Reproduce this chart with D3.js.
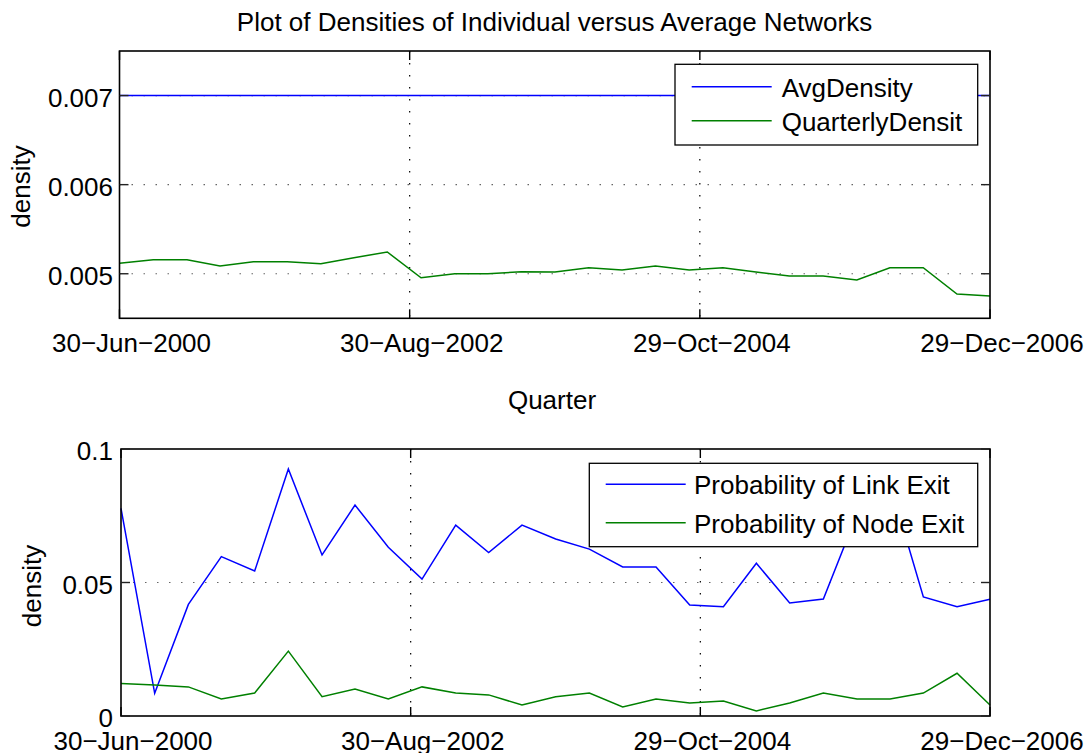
<!DOCTYPE html>
<html>
<head>
<meta charset="utf-8">
<script src="https://cdn.jsdelivr.net/npm/d3@7"></script>
<style>
  html, body { margin: 0; padding: 0; background: #fff; }
  svg text { font-family: "Liberation Sans", Arial, Helvetica, sans-serif; fill: #000; }
</style>
</head>
<body>
<svg id="chart" width="1089" height="753"></svg>
<script>
// ---------------- DATA ----------------
const quarters = [
  "2000-06-30","2000-09-30","2000-12-31",
  "2001-03-31","2001-06-30","2001-09-30","2001-12-31",
  "2002-03-31","2002-06-30","2002-09-30","2002-12-31",
  "2003-03-31","2003-06-30","2003-09-30","2003-12-31",
  "2004-03-31","2004-06-30","2004-09-30","2004-12-31",
  "2005-03-31","2005-06-30","2005-09-30","2005-12-31",
  "2006-03-31","2006-06-30","2006-09-30","2006-12-29"
];
const xTickDates  = ["2000-06-30","2002-08-30","2004-10-29","2006-12-29"];
const xTickLabels = ["30\u2212Jun\u22122000","30\u2212Aug\u22122002","29\u2212Oct\u22122004","29\u2212Dec\u22122006"];

const avgDensity = [
  0.007,0.007,0.007,0.007,0.007,0.007,0.007,0.007,0.007,
  0.007,0.007,0.007,0.007,0.007,0.007,0.007,0.007,0.007,
  0.007,0.007,0.007,0.007,0.007,0.007,0.007,0.007,0.007
];
const quarterlyDensity = [
  0.005117,0.005157,0.005157,0.005087,0.005135,0.005135,0.005112,0.005180,0.005244,
  0.004955,0.005000,0.005000,0.005022,0.005020,0.005068,0.005042,0.005087,0.005042,
  0.005068,0.005020,0.004974,0.004974,0.004929,0.005068,0.005068,0.004772,0.004749
];
const linkExit = [
  0.0778,0.0085,0.0418,0.0597,0.0543,0.0925,0.0603,0.0790,0.0632,
  0.0513,0.0715,0.0612,0.0715,0.0663,0.0625,0.0558,0.0558,0.0416,
  0.0409,0.0572,0.0423,0.0438,0.0757,0.0870,0.0446,0.0409,0.0437
];
const nodeExit = [
  0.0122,0.0116,0.0109,0.0064,0.0086,0.0243,0.0072,0.0101,0.0064,
  0.0109,0.0086,0.0079,0.0041,0.0072,0.0086,0.0034,0.0064,0.0049,
  0.0056,0.0019,0.0049,0.0086,0.0064,0.0064,0.0086,0.0160,0.0041
];
const topYTicks = [0.005, 0.006, 0.007];
const topYLabels = ["0.005", "0.006", "0.007"];
const botYTicks = [0, 0.05, 0.1];
const botYLabels = ["0", "0.05", "0.1"];

// ---------------- DRAW ----------------
const parse = d3.utcParse("%Y-%m-%d");
const dates = quarters.map(parse);
const tickDates = xTickDates.map(parse);
const svg = d3.select("#chart");
svg.append("rect").attr("width", 1089).attr("height", 753).attr("fill", "#fff");

const FS = 26;
const BLUE = "#0000ff", GREEN = "#008000";

function panel(cfg) {
  const x = d3.scaleUtc().domain([tickDates[0], tickDates[tickDates.length - 1]])
    .range([cfg.left, cfg.right]);
  const y = d3.scaleLinear().domain(cfg.yDomain).range([cfg.bottom, cfg.top]);
  const g = svg.append("g");

  // grid lines
  cfg.yTicks.forEach(v => {
    const yy = y(v);
    if (Math.abs(yy - cfg.top) < 1 || Math.abs(yy - cfg.bottom) < 1) return;
    g.append("line").attr("x1", cfg.left).attr("x2", cfg.right).attr("y1", yy).attr("y2", yy)
      .attr("stroke", "#666").attr("stroke-width", 1.2).attr("stroke-dasharray", "1.5,10.5");
  });
  tickDates.forEach(d => {
    const xx = x(d);
    if (Math.abs(xx - cfg.left) < 1 || Math.abs(xx - cfg.right) < 1) return;
    g.append("line").attr("x1", xx).attr("x2", xx).attr("y1", cfg.top).attr("y2", cfg.bottom)
      .attr("stroke", "#000").attr("stroke-width", 1.2).attr("stroke-dasharray", "1.5,10.5");
  });

  // series
  const line = d3.line().x((d, i) => x(dates[i])).y(d => y(d));
  cfg.series.forEach(s => {
    g.append("path").datum(s.values).attr("d", line)
      .attr("fill", "none").attr("stroke", s.color).attr("stroke-width", 1.5)
      .attr("stroke-linejoin", "miter");
  });

  // frame
  g.append("rect").attr("x", cfg.left).attr("y", cfg.top)
    .attr("width", cfg.right - cfg.left).attr("height", cfg.bottom - cfg.top)
    .attr("fill", "none").attr("stroke", "#000").attr("stroke-width", 1.6);

  // ticks (inward)
  const TL = 9;
  cfg.yTicks.forEach((v, i) => {
    const yy = y(v);
    g.append("line").attr("x1", cfg.left).attr("x2", cfg.left + TL).attr("y1", yy).attr("y2", yy)
      .attr("stroke", "#222").attr("stroke-width", 1.4);
    g.append("line").attr("x1", cfg.right).attr("x2", cfg.right - TL).attr("y1", yy).attr("y2", yy)
      .attr("stroke", "#222").attr("stroke-width", 1.4);
    g.append("text").attr("x", 113).attr("y", yy + 11.3).attr("text-anchor", "end")
      .attr("font-size", FS).text(cfg.yLabels[i]);
  });
  tickDates.forEach((d, i) => {
    const xx = x(d);
    g.append("line").attr("x1", xx).attr("x2", xx).attr("y1", cfg.bottom).attr("y2", cfg.bottom - TL)
      .attr("stroke", "#000").attr("stroke-width", 1.4);
    g.append("line").attr("x1", xx).attr("x2", xx).attr("y1", cfg.top).attr("y2", cfg.top + TL)
      .attr("stroke", "#000").attr("stroke-width", 1.4);
    g.append("text").attr("x", xx + 12).attr("y", cfg.bottom + 33.5).attr("text-anchor", "middle")
      .attr("font-size", FS).text(xTickLabels[i]);
  });

  // y label
  g.append("text").attr("transform", `translate(${cfg.ylabX},${cfg.ylabY}) rotate(-90)`)
    .attr("text-anchor", "middle").attr("font-size", FS).text("density");

  // legend
  const L = cfg.legend;
  g.append("rect").attr("x", L.x).attr("y", L.y).attr("width", L.w).attr("height", L.h)
    .attr("fill", "#fff").attr("stroke", "#000").attr("stroke-width", 1.3);
  cfg.series.forEach((s, i) => {
    const ry = L.rows[i];
    g.append("line").attr("x1", L.lx1).attr("x2", L.lx2).attr("y1", ry).attr("y2", ry)
      .attr("stroke", s.color).attr("stroke-width", 1.5);
    g.append("text").attr("x", L.tx).attr("y", ry + 10).attr("font-size", FS).text(s.name);
  });
  return { x, y };
}

panel({
  left: 119.5, right: 990, top: 51, bottom: 318.3,
  yDomain: [0.0045, 0.0075], yTicks: topYTicks, yLabels: topYLabels,
  ylabX: 29.5, ylabY: 186.5,
  series: [
    { name: "AvgDensity", values: avgDensity, color: BLUE },
    { name: "QuarterlyDensit", values: quarterlyDensity, color: GREEN }
  ],
  legend: { x: 675, y: 64.3, w: 302.7, h: 80.7, rows: [86.7, 120.7], lx1: 691.7, lx2: 771.7, tx: 781.7 }
});

panel({
  left: 121, right: 990, top: 449, bottom: 716,
  yDomain: [0, 0.1], yTicks: botYTicks, yLabels: botYLabels,
  ylabX: 41, ylabY: 586,
  series: [
    { name: "Probability of Link Exit", values: linkExit, color: BLUE },
    { name: "Probability of Node Exit", values: nodeExit, color: GREEN }
  ],
  legend: { x: 589.3, y: 463.3, w: 388.4, h: 83.4, rows: [484.3, 522.7], lx1: 605.7, lx2: 685.7, tx: 694 }
});

// title and x label
svg.append("text").attr("x", 554.5).attr("y", 31).attr("text-anchor", "middle")
  .attr("font-size", FS).text("Plot of Densities of Individual versus Average Networks");
svg.append("text").attr("x", 552).attr("y", 408.5).attr("text-anchor", "middle")
  .attr("font-size", FS).text("Quarter");
</script>
</body>
</html>
